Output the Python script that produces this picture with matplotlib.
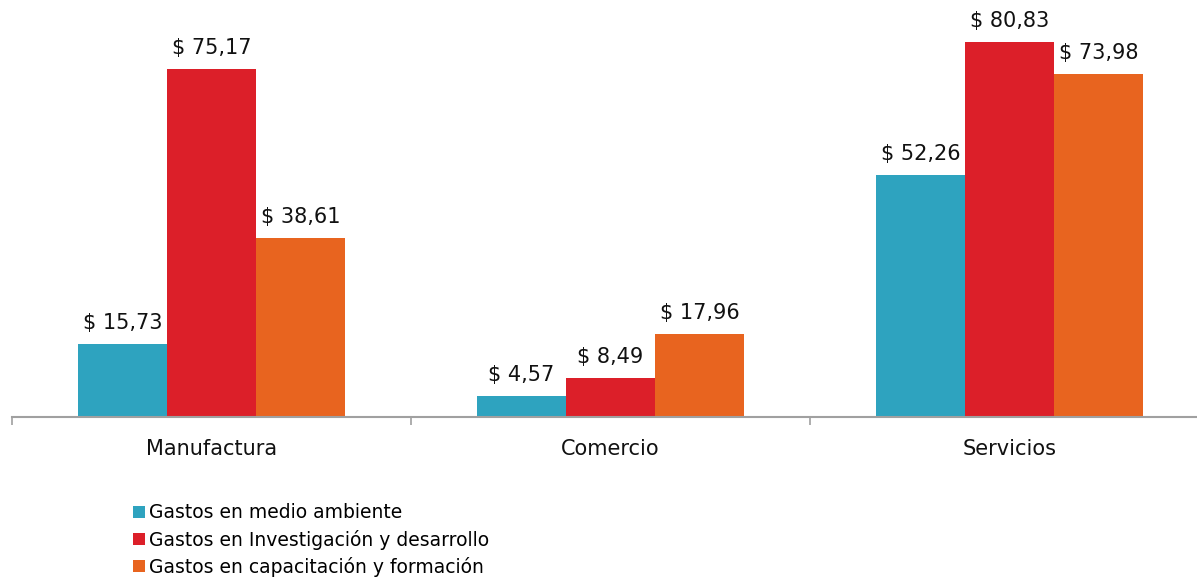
import numpy as np
import matplotlib.pyplot as plt
from matplotlib.patches import Patch

plt.rcParams['font.family'] = ['DejaVu Sans']

categorias = ['Manufactura', 'Comercio', 'Servicios']
series = ['Gastos en medio ambiente',
          'Gastos en Investigación y desarrollo',
          'Gastos en capacitación y formación']
medio_ambiente = [15.73, 4.57, 52.26]
investigacion = [75.17, 8.49, 80.83]
capacitacion = [38.61, 17.96, 73.98]
colores = ['#2EA3BF', '#DC1F29', '#E8641F']

fig = plt.figure(figsize=(11.97, 5.8), dpi=100)
# the axis runs past the right edge of the picture, as in the original
ax = fig.add_axes([12 / 1197, 163 / 580, 1197 / 1197, 417 / 580])

x = np.arange(len(categorias))
ancho = 0.223
valores = [medio_ambiente, investigacion, capacitacion]
for i, (vals, col) in enumerate(zip(valores, colores)):
    pos = x + (i - 1) * ancho
    ax.bar(pos, vals, width=ancho, color=col, label=series[i])
    for p, v in zip(pos, vals):
        etiqueta = '$ ' + f'{v:.2f}'.replace('.', ',')
        ax.annotate(etiqueta, (p, v), xytext=(0, 8), textcoords='offset points',
                    ha='center', va='bottom', fontsize=15, color='#111111')

ax.set_xlim(-0.5, 2.5)
ax.set_ylim(0, 90)
for s in ['top', 'right', 'left']:
    ax.spines[s].set_visible(False)
ax.spines['bottom'].set_color('#A0A0A0')
ax.spines['bottom'].set_linewidth(1.5)
ax.set_yticks([])
ax.set_xticks([-0.5, 0.5, 1.5, 2.5])
ax.set_xticklabels([])
ax.tick_params(axis='x', length=6, width=1.2, color='#A0A0A0')
ax.set_xticks(x, minor=True)
ax.set_xticklabels(categorias, minor=True, fontsize=15, color='#111111')
ax.tick_params(axis='x', which='minor', length=0, pad=16)

manijas = [Patch(facecolor=c) for c in colores]
fig.legend(manijas, series, loc='upper left', bbox_to_anchor=(125 / 1197, 1 - 496 / 580),
           frameon=False, fontsize=13.5, handlelength=0.65, handleheight=0.65,
           handletextpad=0.25, labelspacing=0.38, borderaxespad=0)

fig.savefig('out.png', dpi=100)
